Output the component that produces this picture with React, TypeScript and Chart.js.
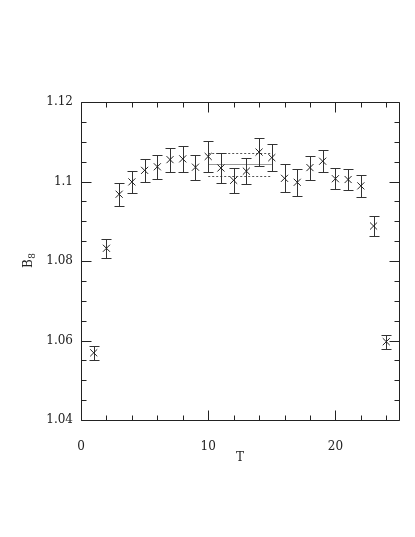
import React, { useEffect, useRef } from 'react';
import { Chart, registerables } from 'chart.js';

Chart.register(...registerables);

const T = [1, 2, 3, 4, 5, 6, 7, 8, 9, 10, 11, 12, 13, 14, 15, 16, 17, 18, 19, 20, 21, 22, 23, 24];
const B8 = [1.0569, 1.0832, 1.0968, 1.0999, 1.1028, 1.1037, 1.1055, 1.1057, 1.1036, 1.1063, 1.1034, 1.1003,
  1.1026, 1.1074, 1.106, 1.1008, 1.0998, 1.1035, 1.1051, 1.1007, 1.1005, 1.0989, 1.0888, 1.0597];
const B8Err = [0.0017, 0.0024, 0.0029, 0.0027, 0.0028, 0.003, 0.003, 0.0032, 0.0031, 0.004, 0.0037, 0.0032,
  0.0032, 0.0036, 0.0034, 0.0035, 0.0034, 0.003, 0.0027, 0.0026, 0.0027, 0.0027, 0.0024, 0.0018];

const xTickLabels = [0, 10, 20];
const yTickLabels = [1.04, 1.06, 1.08, 1.1, 1.12];
const xMinorTicks = [2, 4, 6, 8, 12, 14, 16, 18, 22, 24];
const yMinorTicks = [1.045, 1.05, 1.055, 1.065, 1.07, 1.075, 1.085, 1.09, 1.095, 1.105, 1.11, 1.115];

const fitRange = [10, 15];
const fitValue = 1.1043;
const fitErr = 0.0028;

const FONT = 'DejaVu Serif';
const INK = '#222';

const decor = {
  id: 'decor',
  beforeDatasetsDraw(chart: any) {
    const { ctx } = chart;
    const xs = chart.scales.x;
    const ys = chart.scales.y;
    ctx.save();
    const fx1 = xs.getPixelForValue(fitRange[0]);
    const fx2 = xs.getPixelForValue(fitRange[1]);
    ctx.lineWidth = 1;
    ctx.strokeStyle = '#555';
    ctx.setLineDash([2, 2]);
    for (const v of [fitValue + fitErr, fitValue - fitErr]) {
      const y = Math.round(ys.getPixelForValue(v)) + 0.5;
      ctx.beginPath();
      ctx.moveTo(fx1, y);
      ctx.lineTo(fx2, y);
      ctx.stroke();
    }
    ctx.setLineDash([]);
    ctx.strokeStyle = '#999';
    {
      const y = Math.round(ys.getPixelForValue(fitValue)) + 0.5;
      ctx.beginPath();
      ctx.moveTo(fx1, y);
      ctx.lineTo(fx2, y);
      ctx.stroke();
    }
    ctx.strokeStyle = '#333';
    for (let i = 0; i < T.length; i++) {
      const x = Math.round(xs.getPixelForValue(T[i])) + 0.5;
      const yTop = Math.round(ys.getPixelForValue(B8[i] + B8Err[i])) + 0.5;
      const yBot = Math.round(ys.getPixelForValue(B8[i] - B8Err[i])) + 0.5;
      ctx.beginPath();
      ctx.moveTo(x, yTop);
      ctx.lineTo(x, yBot);
      ctx.moveTo(x - 5, yTop);
      ctx.lineTo(x + 5, yTop);
      ctx.moveTo(x - 5, yBot);
      ctx.lineTo(x + 5, yBot);
      ctx.stroke();
    }
    ctx.restore();
  },
  afterDraw(chart: any) {
    const { ctx, chartArea: a } = chart;
    const xs = chart.scales.x;
    const ys = chart.scales.y;
    ctx.save();
    ctx.strokeStyle = INK;
    ctx.lineWidth = 1;
    const L = Math.round(a.left) + 0.5;
    const R = Math.round(a.right) + 0.5;
    const Tp = Math.round(a.top) + 0.5;
    const B = Math.round(a.bottom) + 0.5;
    ctx.beginPath();
    ctx.rect(L, Tp, R - L, B - Tp);
    ctx.stroke();
    const tick = (vals: number[], len: number) => {
      for (const v of vals) {
        const x = Math.round(xs.getPixelForValue(v)) + 0.5;
        ctx.moveTo(x, B);
        ctx.lineTo(x, B - len);
        ctx.moveTo(x, Tp);
        ctx.lineTo(x, Tp + len);
      }
    };
    const ytick = (vals: number[], len: number) => {
      for (const v of vals) {
        const y = Math.round(ys.getPixelForValue(v)) + 0.5;
        ctx.moveTo(L, y);
        ctx.lineTo(L + len, y);
        ctx.moveTo(R, y);
        ctx.lineTo(R - len, y);
      }
    };
    ctx.beginPath();
    tick(xTickLabels, 10);
    tick(xMinorTicks, 5);
    ytick(yTickLabels, 10);
    ytick(yMinorTicks, 5);
    ctx.stroke();
    // y axis title B_8
    ctx.fillStyle = INK;
    ctx.translate(32, 268);
    ctx.rotate(-Math.PI / 2);
    ctx.textBaseline = 'alphabetic';
    ctx.textAlign = 'left';
    ctx.font = `12px "${FONT}"`;
    ctx.fillText('B', 0, 0);
    const w = ctx.measureText('B').width;
    ctx.font = `9px "${FONT}"`;
    ctx.fillText('8', w + 0.5, 3);
    ctx.restore();
  },
};

export default function App() {
  const ref = useRef<HTMLCanvasElement>(null);
  useEffect(() => {
    document.body.style.margin = '0';
    const chart = new Chart(ref.current as HTMLCanvasElement, {
      type: 'scatter',
      data: {
        datasets: [
          {
            data: T.map((t, i) => ({ x: t, y: B8[i] })),
            pointStyle: 'crossRot',
            radius: 5,
            borderColor: INK,
            borderWidth: 1,
            backgroundColor: 'transparent',
          },
        ],
      },
      options: {
        animation: false,
        responsive: false,
        devicePixelRatio: 1,
        layout: { padding: { top: 102, right: 16, left: 0, bottom: 0 } },
        plugins: { legend: { display: false }, tooltip: { enabled: false } },
        scales: {
          x: {
            type: 'linear',
            min: 0,
            max: 25,
            grid: { display: false, drawTicks: false },
            border: { display: false },
            afterBuildTicks: (s: any) => {
              s.ticks = xTickLabels.map((v) => ({ value: v }));
            },
            afterFit: (s: any) => {
              s.height = 117;
            },
            ticks: {
              padding: 20,
              color: INK,
              font: { family: FONT, size: 12 },
              maxRotation: 0,
              autoSkip: false,
              callback: (v: any) => String(v),
            },
            title: {
              display: true,
              text: 'T',
              color: INK,
              font: { family: FONT, size: 12 },
              padding: { top: 0, bottom: 72 },
            },
          },
          y: {
            type: 'linear',
            min: 1.04,
            max: 1.12,
            grid: { display: false, drawTicks: false },
            border: { display: false },
            afterBuildTicks: (s: any) => {
              s.ticks = yTickLabels.map((v) => ({ value: v }));
            },
            afterFit: (s: any) => {
              s.width = 81;
            },
            ticks: {
              padding: 8,
              color: INK,
              font: { family: FONT, size: 12 },
              autoSkip: false,
              callback: (v: any) => String(Number(Number(v).toFixed(3))),
            },
          },
        },
      },
      plugins: [decor],
    });
    return () => chart.destroy();
  }, []);
  return (
    <div style={{ position: 'fixed', left: 0, top: 0, width: 415, height: 537 }}>
      <canvas ref={ref} width={415} height={537} style={{ display: 'block', width: 415, height: 537 }} />
    </div>
  );
}
